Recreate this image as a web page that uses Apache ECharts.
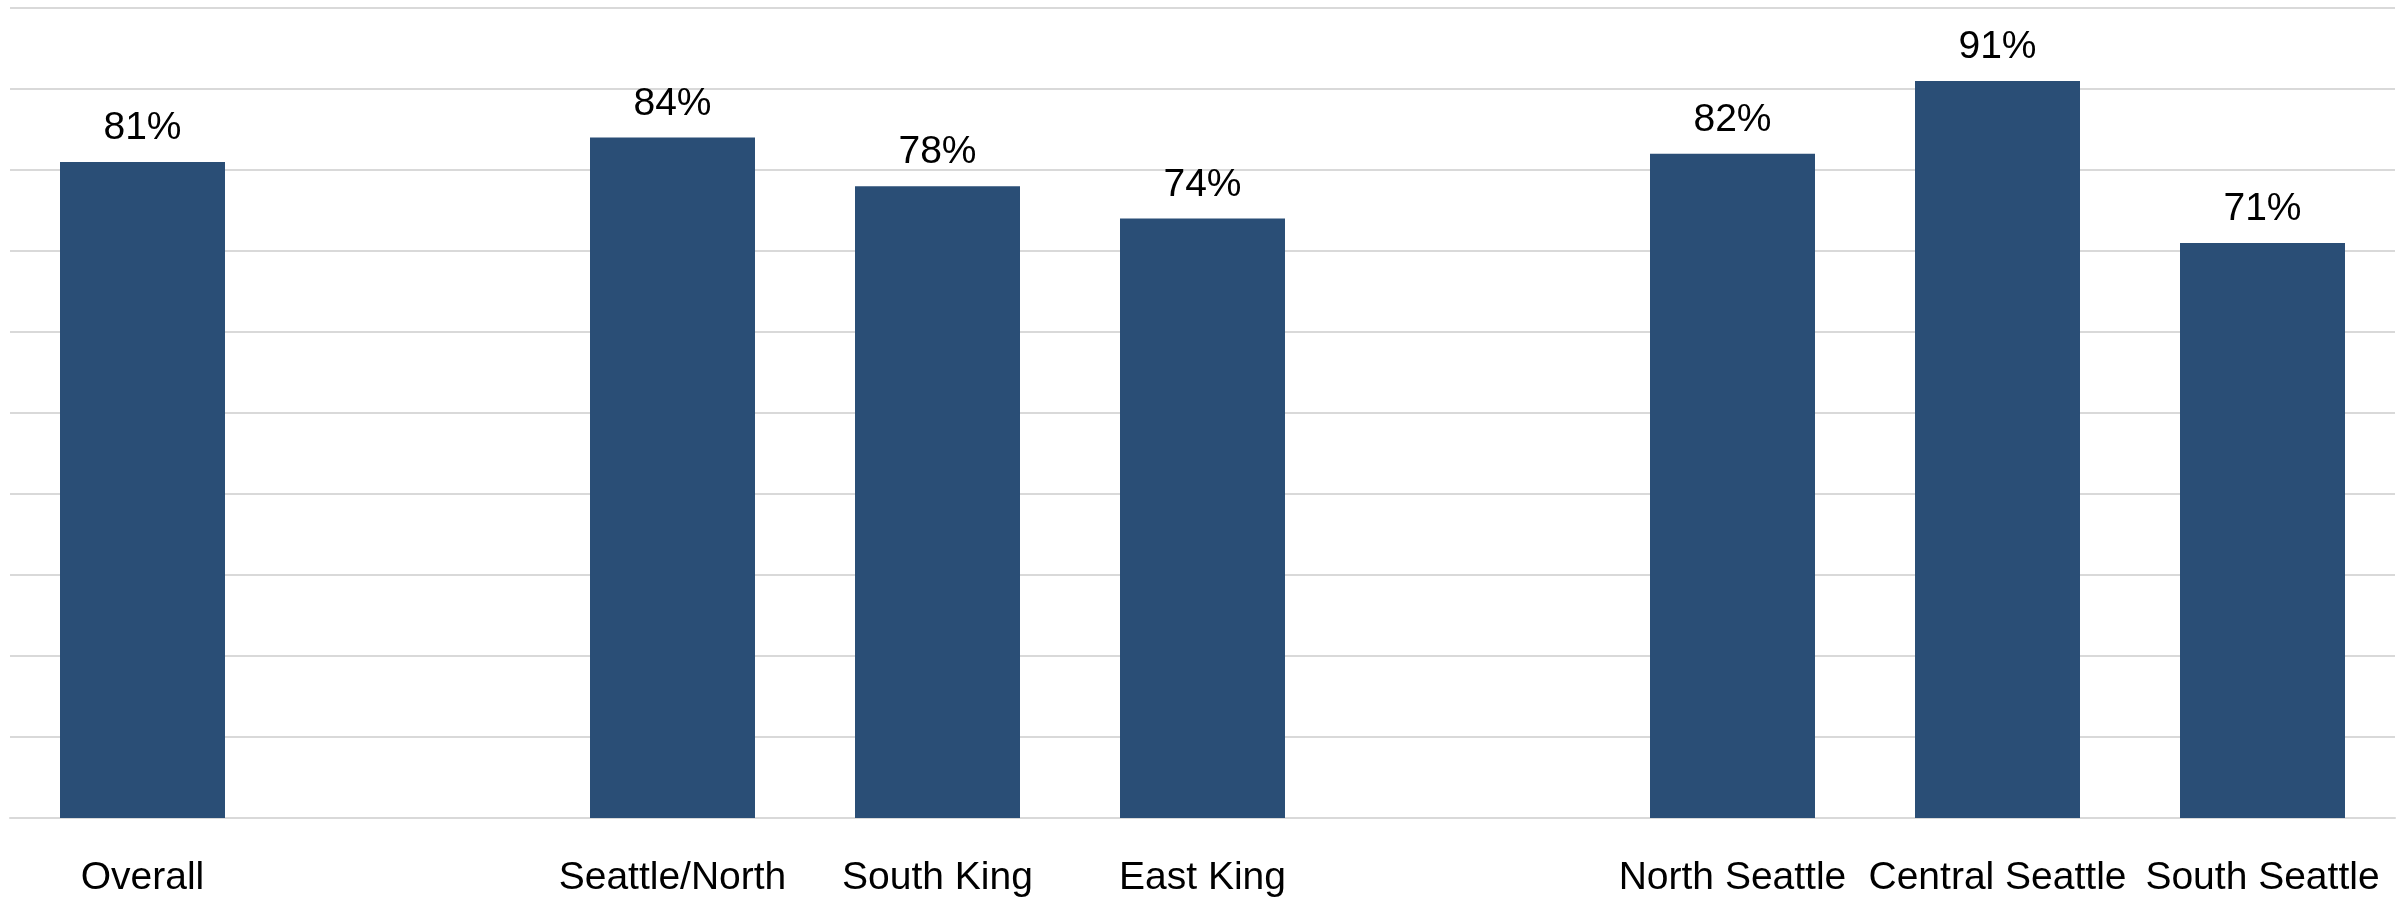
<!DOCTYPE html>
<html>
<head>
<meta charset="utf-8">
<script src="https://cdn.jsdelivr.net/npm/echarts@6/dist/echarts.min.js"></script>
<style>
html,body{margin:0;padding:0;background:#fff;}
#chart{width:2402px;height:898px;}
</style>
</head>
<body>
<div id="chart"></div>
<script>
const categories = ['Overall', '', 'Seattle/North', 'South King', 'East King', '', 'North Seattle', 'Central Seattle', 'South Seattle'];
const values = [81, null, 84, 78, 74, null, 82, 91, 71];
const yTicks = [0, 10, 20, 30, 40, 50, 60, 70, 80, 90, 100];

const chart = echarts.init(document.getElementById('chart'));
const FONT = '"Liberation Sans", Arial, sans-serif';
chart.setOption({
  animation: false,
  backgroundColor: '#ffffff',
  grid: { left: 10, right: 7, top: 8, height: 811, containLabel: false },
  xAxis: {
    type: 'category',
    data: categories,
    axisLine: { show: true, lineStyle: { color: '#d9d9d9', width: 2 } },
    axisTick: { show: false },
    axisLabel: {
      interval: 0,
      color: '#000000',
      fontFamily: FONT,
      fontSize: 39,
      margin: 41
    }
  },
  yAxis: {
    type: 'value',
    min: yTicks[0],
    max: yTicks[yTicks.length - 1],
    interval: 10,
    axisLabel: { show: false },
    axisLine: { show: false },
    axisTick: { show: false },
    splitLine: { show: true, lineStyle: { color: '#d9d9d9', width: 2 } }
  },
  series: [{
    type: 'bar',
    data: values,
    barWidth: 165,
    itemStyle: { color: '#2a4e76' },
    label: {
      show: true,
      position: 'top',
      distance: 14,
      color: '#000000',
      fontFamily: FONT,
      fontSize: 39,
      formatter: p => p.value + '%'
    }
  }]
});
</script>
</body>
</html>
